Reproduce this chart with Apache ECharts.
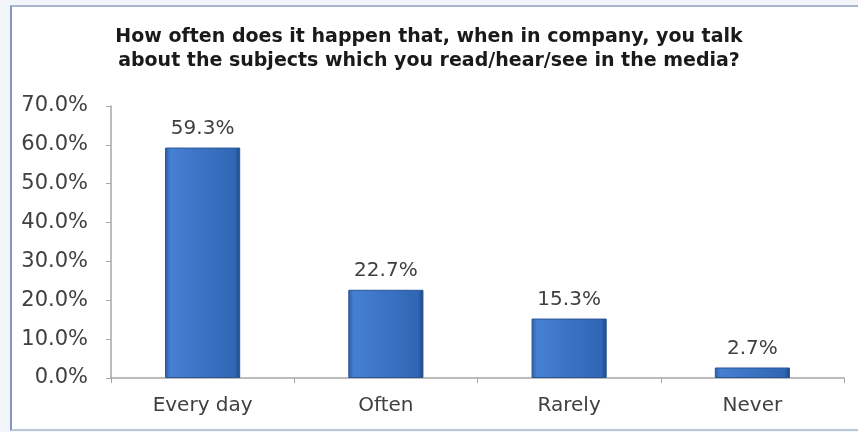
<!DOCTYPE html>
<html>
<head>
<meta charset="utf-8">
<script src="https://cdn.jsdelivr.net/npm/echarts@6/dist/echarts.min.js"></script>
<style>
  html, body { margin: 0; padding: 0; background: #f2f6fb; overflow: hidden; }
  #frame { position: absolute; left: 10px; top: 5px; width: 848px; height: 422px;
           border-left: 2px solid #8596c4; border-top: 2px solid #a9b6cf;
           border-bottom: 2px solid #b9c6da; background: #ffffff; }
  #chart { width: 858px; height: 432px; position: absolute; left: 0; top: 0; }
</style>
</head>
<body>
<div id="frame"></div>
<div id="chart"></div>
<script>
    var categories = ['Every day', 'Often', 'Rarely', 'Never'];
    var shares = [59.3, 22.7, 15.3, 2.7];
    var titleLines = [
        'How often does it happen that, when in company, you talk',
        'about the subjects which you read/hear/see in the media?'
    ];

    var chart = echarts.init(document.getElementById('chart'), null, { renderer: 'canvas' });

    var barFill = new echarts.graphic.LinearGradient(0, 0, 1, 0, [
        { offset: 0, color: '#2c5ba3' },
        { offset: 0.07, color: '#4680d2' },
        { offset: 0.5, color: '#3b73c4' },
        { offset: 0.93, color: '#3066b3' },
        { offset: 1, color: '#1e4683' }
    ]);

    var option = {
        backgroundColor: 'transparent',
        animation: false,
        title: {
            text: titleLines.join('\n'),
            left: 'center',
            top: 20,
            textStyle: {
                fontFamily: 'DejaVu Sans',
                fontWeight: 'bold',
                fontSize: 19,
                lineHeight: 24,
                color: '#1a1a1a'
            }
        },
        grid: {
            left: 111,
            right: 14,
            top: 106,
            bottom: 54
        },
        xAxis: {
            type: 'category',
            data: categories,
            axisLine: { lineStyle: { color: '#a6a6a6', width: 1.5 } },
            axisTick: { show: true, length: 5, lineStyle: { color: '#a6a6a6' } },
            axisLabel: {
                margin: 18,
                fontFamily: 'DejaVu Sans',
                fontSize: 20,
                color: '#404040'
            }
        },
        yAxis: {
            type: 'value',
            min: 0,
            max: 70,
            interval: 10,
            splitLine: { show: false },
            axisLine: { show: true, lineStyle: { color: '#a6a6a6', width: 1.5 } },
            axisTick: { show: true, length: 5, lineStyle: { color: '#a6a6a6' } },
            axisLabel: {
                margin: 23,
                fontFamily: 'DejaVu Sans',
                fontSize: 21,
                color: '#404040',
                formatter: function (v) { return v.toFixed(1) + '%'; }
            }
        },
        series: [
            {
                type: 'bar',
                data: shares,
                barWidth: '41%',
                itemStyle: {
                    color: barFill,
                    borderColor: '#2a5595',
                    borderWidth: 1
                },
                label: {
                    show: true,
                    position: 'top',
                    distance: 9,
                    fontFamily: 'DejaVu Sans',
                    fontSize: 20,
                    color: '#404040',
                    formatter: function (p) { return p.value.toFixed(1) + '%'; }
                }
            }
        ]
    };

    chart.setOption(option);
</script>
</body>
</html>
